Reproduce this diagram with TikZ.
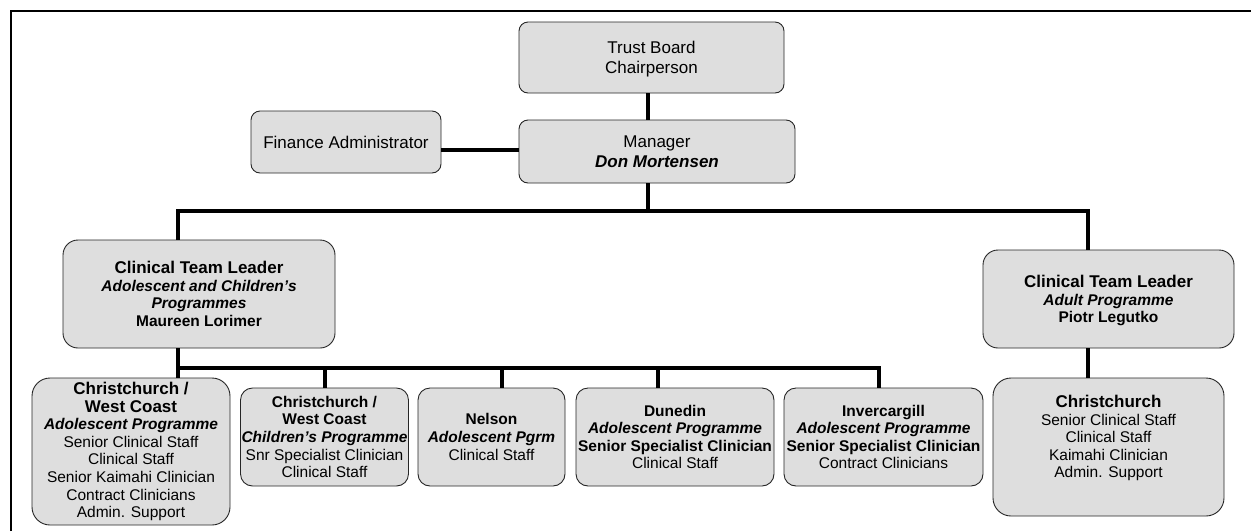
\documentclass[tikz,border=0pt]{standalone}
\usepackage{fontspec}
\setsansfont{Liberation Sans}
\definecolor{boxgray}{HTML}{DEDEDE}
\newcommand{\hd}[1]{{\fontsize{17}{18}\selectfont\bfseries #1}}
\newcommand{\bi}[1]{\textbf{\textit{#1}}}

\begin{document}
\begin{tikzpicture}[x=1pt, y=-1pt, line width=3.2pt, main node/.style={rectangle, rounded corners=12pt, draw=black!85, line width=0.9pt, fill=boxgray, align=center, inner sep=1pt}, large font/.style={font=\sffamily\fontsize{17}{20}\selectfont}]
        \tikzstyle{every node}=[font=\sffamily\fontsize{15.5}{17.6}\selectfont]
        \useasboundingbox (0,0) rectangle (1251,531);

          % frame
          \draw[line width=2pt] (11,531) -- (11,11) -- (1251,11);

          \node[main node, large font, rounded corners=9pt, minimum width=265, minimum height=71, text depth=-10pt] (1) at (651.5,57.5) {Trust Board\\Chairperson};
          \node[main node, large font, rounded corners=9pt, minimum width=276, minimum height=63, text depth=-6pt] (2) at (657,151.5) {Manager\\\bi{Don Mortensen}};
          \node[main node, large font, rounded corners=9pt, minimum width=190, minimum height=62] (3) at (346,142) {Finance Administrator};

          \node[main node, rounded corners=15pt, minimum width=272, minimum height=108, text depth=-6pt] (4) at (199,294) {\hd{Clinical Team Leader}\\\bi{Adolescent and Children’s}\\\bi{Programmes}\\\textbf{Maureen Lorimer}};
          \node[main node, rounded corners=15pt, minimum width=251, minimum height=98, text depth=-3pt] (5) at (1108.5,299) {\hd{Clinical Team Leader}\\\bi{Adult Programme}\\\textbf{Piotr Legutko}};

          \node[main node, rounded corners=18pt, minimum width=198, minimum height=147] (6) at (131,451.5) {\hd{Christchurch /}\\\hd{West Coast}\\\bi{Adolescent Programme}\\Senior Clinical Staff\\Clinical Staff\\Senior Kaimahi Clinician\\Contract Clinicians\\Admin. Support};
          \node[main node, minimum width=167, minimum height=98] (7) at (324.5,437) {\textbf{Christchurch /}\\\textbf{West Coast}\\\bi{Children’s Programme}\\Snr Specialist Clinician\\Clinical Staff};
          \node[main node, minimum width=147, minimum height=98] (8) at (491.5,437) {\textbf{Nelson}\\\bi{Adolescent Pgrm}\\Clinical Staff};
          \node[main node, minimum width=198, minimum height=98] (9) at (675,437) {\textbf{Dunedin}\\\bi{Adolescent Programme}\\\textbf{Senior Specialist Clinician}\\Clinical Staff};
          \node[main node, minimum width=199, minimum height=98] (10) at (883.5,437) {\textbf{Invercargill}\\\bi{Adolescent Programme}\\\textbf{Senior Specialist Clinician}\\Contract Clinicians};
          \node[main node, rounded corners=18pt, minimum width=231, minimum height=138, text depth=21pt] (11) at (1108.5,447) {\hd{Christchurch}\\Senior Clinical Staff\\Clinical Staff\\Kaimahi Clinician\\Admin. Support};

          % lines
          \coordinate (a) at (648,0);
          \coordinate (b) at (0,150);
          \coordinate (bus) at (648,211);
          \coordinate (c1) at (178,0);
          \coordinate (c2) at (1088,0);
          \coordinate (bus2) at (178,368);

          \draw (1.south -| a) -- (2.north -| a);
          \draw (3.east |- b) -- (2.west |- b);
          \draw (2.south -| a) -- (bus);
          \draw (4.north -| c1) |- (bus) -| (5.north -| c2);
          \draw (4.south -| c1) -- (6.north -| c1);
          \draw (bus2) -| (10.north -| 879,0);
          \foreach \n/\x in {7/325, 8/502, 9/658}
            \draw (\x,368) -- (\n.north -| \x,0);
          \draw (5.south -| c2) -- (11.north -| c2);

        \end{tikzpicture}
\end{document}
